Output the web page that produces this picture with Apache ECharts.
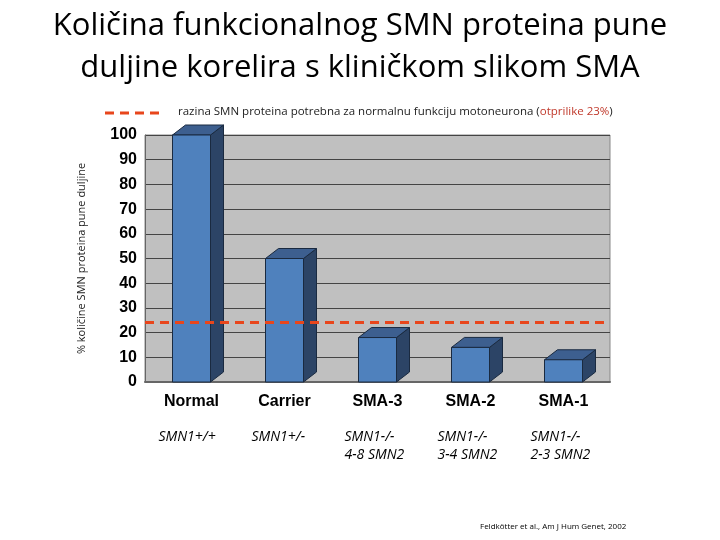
<!DOCTYPE html>
<html><head><meta charset="utf-8">
<script src="https://cdn.jsdelivr.net/npm/echarts@6/dist/echarts.min.js"></script>
<style>body{margin:0}#c{width:720px;height:540px}</style></head>
<body><div id="c"></div>
<script>
const categories = ['Normal', 'Carrier', 'SMA-3', 'SMA-2', 'SMA-1'];
const genotypes = ['SMN1+/+', 'SMN1+/-', 'SMN1-/-\n4-8 SMN2', 'SMN1-/-\n3-4 SMN2', 'SMN1-/-\n2-3 SMN2'];
const values = [100, 50, 18, 14, 9];
const threshold = 24;

const chart = echarts.init(document.getElementById('c'));

// 3D-looking bar: front, side and top faces
function renderBar(params, api) {
  const x = api.value(0), v = api.value(1);
  const top = api.coord([x, v]), base = api.coord([x, 0]);
  const w = 38, dx = 13, dy = 10;
  const l = top[0] - w / 2, r = top[0] + w / 2;
  return {
    type: 'group',
    children: [
      { type: 'polygon', shape: { points: [[r, top[1]], [r + dx, top[1] - dy], [r + dx, base[1] - dy], [r, base[1]]] },
        style: { fill: '#2c4466', stroke: '#1a2a40', lineWidth: 1 } },
      { type: 'polygon', shape: { points: [[l, top[1]], [l + dx, top[1] - dy], [r + dx, top[1] - dy], [r, top[1]]] },
        style: { fill: '#3d5f8f', stroke: '#1a2a40', lineWidth: 1 } },
      { type: 'rect', shape: { x: l, y: top[1], width: w, height: base[1] - top[1] },
        style: { fill: '#4f81bd', stroke: '#1a2a40', lineWidth: 1 } }
    ]
  };
}

chart.setOption({
  backgroundColor: '#fff',
  title: {
    text: 'Količina funkcionalnog SMN proteina pune\nduljine korelira s kliničkom slikom SMA',
    left: 'center', top: 0,
    textStyle: { fontFamily: 'Open Sans', fontSize: 31, fontWeight: 'normal', color: '#000', lineHeight: 42 }
  },
  graphic: [
    { type: 'line', shape: { x1: 105, y1: 113, x2: 165, y2: 113 },
      style: { stroke: '#e8461c', lineWidth: 3, lineDash: [9, 6] } },
    { type: 'text', left: 178, top: 106,
      style: { text: '{a|razina SMN proteina potrebna za normalnu funkciju motoneurona (}{b|otprilike 23%}{a|)}',
        rich: { a: { fontFamily: 'Open Sans', fontSize: 11.5, fill: '#222' }, b: { fontFamily: 'Open Sans', fontSize: 11.5, fill: '#c0392b' } } } },
    { type: 'text', left: 480, top: 523,
      style: { text: 'Feldkötter et al., Am J Hum Genet, 2002', fontFamily: 'Open Sans', fontSize: 8, fill: '#000' } }
  ],
  grid: { left: 145, right: 110, top: 135, bottom: 158, show: true, backgroundColor: '#c0c0c0', borderColor: '#888' },
  xAxis: {
    type: 'category', data: categories,
    axisTick: { show: false }, axisLine: { lineStyle: { color: '#666', width: 2 } },
    axisLabel: {
      margin: 12, interval: 0,
      formatter: (val, i) => '{a|' + val + '}\n{b|' + genotypes[i].replace('\n', '}\n{b|') + '}',
      rich: {
        a: { fontFamily: 'Liberation Sans', fontWeight: 'bold', fontSize: 16, color: '#000', lineHeight: 34, verticalAlign: 'top' },
        b: { fontFamily: 'Open Sans', fontStyle: 'italic', fontSize: 14, color: '#000', lineHeight: 18, align: 'left', width: 80, padding: [0, 0, 0, 14] }
      }
    }
  },
  yAxis: {
    type: 'value', min: 0, max: 100, interval: 10,
    name: '% količine SMN proteina pune duljine', nameLocation: 'middle', nameGap: 58,
    nameTextStyle: { fontFamily: 'Open Sans', fontSize: 11, color: '#222' },
    axisLine: { show: true, lineStyle: { color: '#666' } },
    axisTick: { show: false },
    axisLabel: { fontFamily: 'Liberation Sans', fontWeight: 'bold', fontSize: 16, color: '#000', margin: 8 },
    splitLine: { lineStyle: { color: '#444', width: 1 } }
  },
  series: [
    { type: 'custom', renderItem: renderBar, data: values.map((v, i) => [i, v]), z: 3 },
    { type: 'line', data: [], z: 5,
      markLine: { symbol: 'none', silent: true, label: { show: false },
        lineStyle: { color: '#e8461c', width: 3, type: [9, 6] },
        data: [{ yAxis: threshold }] } }
  ]
});
</script></body></html>
